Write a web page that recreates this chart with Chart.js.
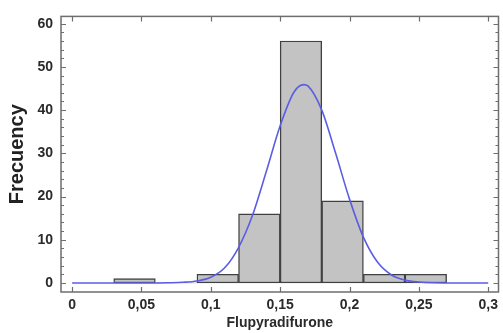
<!DOCTYPE html>
<html><head><meta charset="utf-8">
<script src="https://cdn.jsdelivr.net/npm/chart.js@4/dist/chart.umd.min.js"></script>
<style>html,body{margin:0;padding:0;background:#fff}#w{width:503px;height:333px}</style>
</head><body><div id="w"><canvas id="c"></canvas></div>
<script>
// Histogram bins (centres) and frequencies
const binCenters = [0.045, 0.075, 0.105, 0.135, 0.165, 0.195, 0.225, 0.255];
const binCounts  = [1, 0, 2, 16, 56, 19, 2, 2];
// Fitted normal curve
const curveX = [0, 0.05, 0.07, 0.08, 0.09, 0.10, 0.11, 0.12, 0.13, 0.14, 0.15, 0.16, 0.167, 0.17, 0.18, 0.19, 0.20, 0.21, 0.22, 0.23, 0.24, 0.25, 0.26, 0.28, 0.30];
const curveY = [0, 0, 0.05, 0.15, 0.45, 1.3, 3.5, 8.2, 15.6, 25.8, 36.4, 44.2, 45.9, 45.6, 40.0, 30.0, 19.4, 10.6, 4.9, 1.9, 0.65, 0.2, 0.05, 0, 0];
const xTicks = [0, 0.05, 0.1, 0.15, 0.2, 0.25, 0.3];
const yTicks = [0, 10, 20, 30, 40, 50, 60];
const yMinor = [2,4,6,8,12,14,16,18,22,24,26,28,32,34,36,38,42,44,46,48,52,54,56,58];

const frame = {
  id: 'frame',
  afterDatasetsDraw(chart) {
    const {ctx, chartArea: a, scales: {x, y}} = chart;
    ctx.save();
    ctx.strokeStyle = '#6e6e6e';
    ctx.lineWidth = 1.5;
    ctx.strokeRect(a.left, a.top, a.right - a.left, a.bottom - a.top);
    ctx.lineWidth = 1.2;
    ctx.beginPath();
    xTicks.forEach(v => {
      const px = Math.round(x.getPixelForValue(v)) + 0.5;
      ctx.moveTo(px, a.bottom); ctx.lineTo(px, a.bottom - 5);
      ctx.moveTo(px, a.top); ctx.lineTo(px, a.top + 5);
    });
    yTicks.forEach(v => {
      const py = Math.round(y.getPixelForValue(v)) + 0.5;
      ctx.moveTo(a.left, py); ctx.lineTo(a.left + 5, py);
      ctx.moveTo(a.right, py); ctx.lineTo(a.right - 5, py);
    });
    yMinor.forEach(v => {
      const py = Math.round(y.getPixelForValue(v)) + 0.5;
      ctx.moveTo(a.left, py); ctx.lineTo(a.left + 3, py);
      ctx.moveTo(a.right, py); ctx.lineTo(a.right - 3, py);
    });
    ctx.stroke();
    ctx.restore();
  }
};

new Chart(document.getElementById('c'), {
  type: 'bar',
  data: {
    datasets: [
      {
        type: 'line',
        data: curveX.map((v, i) => ({x: v, y: curveY[i]})),
        borderColor: '#5c5ce4',
        borderWidth: 1.6,
        pointRadius: 0,
        cubicInterpolationMode: 'monotone',
        fill: false,
        order: 0
      },
      {
        type: 'bar',
        data: binCenters.map((v, i) => ({x: v, y: binCounts[i]})),
        backgroundColor: '#c3c3c3',
        borderColor: '#404040',
        borderWidth: c => (c.raw && c.raw.y === 0) ? 0 : 1.4,
        borderSkipped: false,
        barPercentage: 1,
        categoryPercentage: 1,
        order: 1
      }
    ]
  },
  options: {
    responsive: true,
    maintainAspectRatio: false,
    animation: false,
    layout: {padding: {top: 14, right: 2, left: 0, bottom: 0}},
    plugins: {legend: {display: false}, tooltip: {enabled: false}},
    scales: {
      x: {
        type: 'linear',
        offset: false,
        min: -0.008,
        max: 0.3074,
        grid: {display: false, drawTicks: false},
        border: {display: false},
        afterBuildTicks: s => { s.ticks = xTicks.map(v => ({value: v})); },
        afterFit: s => { s.height = 41; },
        ticks: {
          padding: 5,
          color: '#2a2a2a',
          font: {family: 'Liberation Sans, Arial', size: 14, weight: 'bold'},
          maxRotation: 0,
          autoSkip: false,
          callback: v => String(v).replace('.', ',')
        },
        title: {
          display: true,
          text: 'Flupyradifurone',
          color: '#2a2a2a',
          font: {family: 'Liberation Sans, Arial', size: 14, weight: 'bold', lineHeight: 1.2},
          padding: {top: 0, bottom: 1}
        }
      },
      y: {
        min: -2.1,
        max: 61.7,
        grid: {display: false, drawTicks: false},
        border: {display: false},
        afterBuildTicks: s => { s.ticks = yTicks.map(v => ({value: v})); },
        afterFit: s => { s.width = 61; },
        ticks: {
          padding: 8,
          color: '#2a2a2a',
          font: {family: 'Liberation Sans, Arial', size: 14, weight: 'bold'}
        },
        title: {
          display: true,
          text: 'Frecuency',
          color: '#222',
          font: {family: 'Liberation Sans, Arial', size: 20, weight: 'bold', lineHeight: 1.2},
          padding: {top: 5, bottom: 0}
        }
      }
    }
  },
  plugins: [frame]
});
</script>
</body></html>
